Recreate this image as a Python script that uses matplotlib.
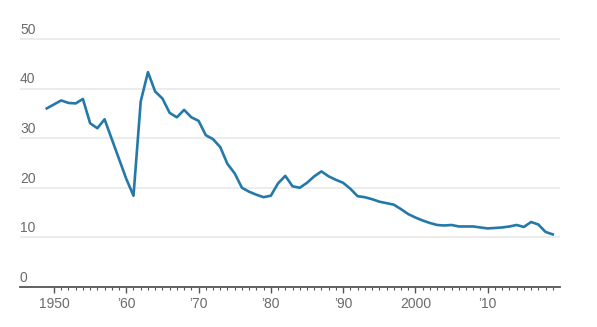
import numpy as np
import matplotlib
matplotlib.use("Agg")
import matplotlib.pyplot as plt
from matplotlib.ticker import FixedLocator
import matplotlib.transforms as mtransforms

years = np.arange(1949, 2020)
values = [
    36.0, 36.8, 37.6, 37.1, 37.0, 37.9, 33.0, 32.0, 33.8, 29.8,   # 1949-1958
    25.8, 21.8, 18.4, 37.4, 43.3, 39.4, 38.0, 35.1, 34.2, 35.7,   # 1959-1968
    34.2, 33.5, 30.6, 29.8, 28.2, 24.8, 22.9, 20.0, 19.2, 18.6,   # 1969-1978
    18.1, 18.4, 20.9, 22.4, 20.3, 20.0, 21.0, 22.3, 23.3, 22.3,   # 1979-1988
    21.6, 21.0, 19.8, 18.3, 18.1, 17.7, 17.2, 16.9, 16.6, 15.7,   # 1989-1998
    14.7, 14.0, 13.4, 12.9, 12.5, 12.4, 12.5, 12.2, 12.2, 12.2,   # 1999-2008
    12.0, 11.8, 11.9, 12.0, 12.2, 12.5, 12.1, 13.1, 12.6, 11.1,   # 2009-2018
    10.6,                                                         # 2019
]
ytick_vals = [0, 10, 20, 30, 40, 50]
xtick_years = [1950, 1960, 1970, 1980, 1990, 2000, 2010]
xtick_labels = ["1950", "\u201960", "\u201970", "\u201980", "\u201990", "2000", "\u201910"]

line_color = "#2479a8"
grid_color = "#ebebeb"
text_color = "#6b6b6b"
axis_color = "#555555"

plt.rcParams["font.family"] = ["Liberation Sans", "DejaVu Sans"]

fig = plt.figure(figsize=(5.97, 3.27), dpi=100)
ax = fig.add_axes([20 / 597, 40 / 327, 540 / 597, 258 / 327])
ax.set_xlim(1945.3, 2020.0)
ax.set_ylim(0, 52)

for v in ytick_vals[1:]:
    ax.axhline(v, color=grid_color, lw=1.3, zorder=1)

ax.plot(years, values, color=line_color, lw=1.9, solid_joinstyle="round", zorder=3)

for s in ["top", "right", "left"]:
    ax.spines[s].set_visible(False)
ax.spines["bottom"].set_color(axis_color)
ax.spines["bottom"].set_linewidth(1.3)

# value labels sit just above their gridlines, flush left
ax.set_yticks([])
offset = mtransforms.ScaledTranslation(0, 1.5 / 72, fig.dpi_scale_trans)
trans = mtransforms.blended_transform_factory(ax.transAxes, ax.transData) + offset
for v in ytick_vals:
    ax.text(0, v, str(v), transform=trans, ha="left", va="bottom",
            fontsize=10, color=text_color)

ax.xaxis.set_major_locator(FixedLocator(xtick_years))
ax.xaxis.set_minor_locator(FixedLocator(list(range(1950, 2020))))
ax.set_xticklabels(xtick_labels)
ax.tick_params(axis="x", which="major", length=4.5, width=1.0, color=axis_color,
               labelsize=10, labelcolor=text_color, pad=3)
ax.tick_params(axis="x", which="minor", length=2.5, width=0.8, color=axis_color)

fig.savefig("out.png", dpi=100)
